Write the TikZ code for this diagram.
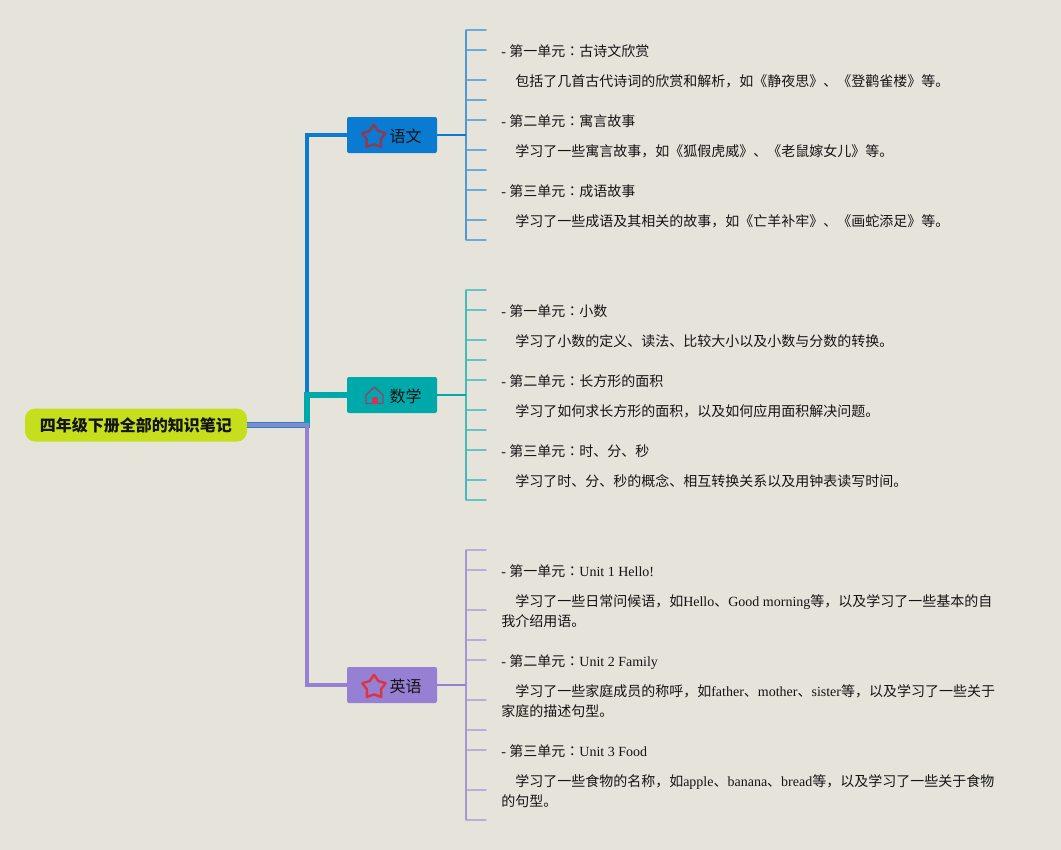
\documentclass[tikz,border=0pt]{standalone}
\usepackage{fontspec}
\setmainfont{Liberation Serif}
\newfontfamily\cjk{Noto Sans CJK SC}
\newfontfamily\cjktc{Noto Sans CJK TC}
\newcommand{\zh}[1]{{\cjk #1}}
\newcommand{\cn}{{\cjktc ：}}
\definecolor{bgc}{HTML}{E6E3DB}
\definecolor{rootc}{HTML}{C6DF1C}
\definecolor{bluec}{HTML}{0A7BD0}
\definecolor{tealc}{HTML}{00A9A9}
\definecolor{purpc}{HTML}{9680D3}
\definecolor{starblue}{HTML}{8E3A55}
\definecolor{starpurp}{HTML}{DC3541}
\definecolor{housec}{HTML}{96406A}
\definecolor{doorc}{HTML}{D8305A}
\definecolor{inkc}{HTML}{141414}
\tikzset{
  x=0.75pt,y=-0.75pt,
  rootbox/.style={fill=rootc,rounded corners=7.5pt,minimum width=222*0.75pt,minimum height=33*0.75pt,inner sep=0pt,text=inkc,font=\fontsize{12pt}{14pt}\selectfont},
  topicbox/.style={rounded corners=1.5pt,minimum width=90*0.75pt,minimum height=36*0.75pt,inner sep=0pt},
  topiclabel/.style={font=\fontsize{12pt}{14pt}\selectfont,inner sep=0pt,anchor=center,text=inkc},
  leaf/.style={anchor=base west,inner sep=0pt,text=inkc,font=\fontsize{10.5pt}{15pt}\selectfont},
  tick/.style={line width=1.1pt,line cap=round},
  starshape/.style={line width=1.8pt,line join=round,fill=none}
}
\newcommand{\ticks}[3]{%
 \foreach \yy [count=\i] in {#3}{
   \coordinate (#1t\i) at (466,\yy);
   \coordinate (#1e\i) at (486,\yy);
   \draw[tick,draw=#2!55!bgc] (#1t\i) -- (#1e\i);
 }
}
\newcommand{\drawstar}[4]{%
 \draw[starshape,draw=#4] (#1+0,#2-#3)
 \foreach \a [evaluate=\a as \r using {mod(\a,72)==0?#3:#3*0.6}] in {36,72,...,324}{ -- (#1+\r*sin \a,#2-\r*cos \a)} -- cycle;
}
\begin{document}
\begin{tikzpicture}
\useasboundingbox (0,0) rectangle (1061,850);
\fill[bgc] (0,0) rectangle (1061,850);

\coordinate (J) at (307,425);
\node[rootbox] (root) at (136,425) {\cjk\bfseries 四年级下册全部的知识笔记};
\node[topicbox,fill=bluec] (yw) at (392,135) {};
\node[topicbox,fill=tealc] (sx) at (392,395) {};
\node[topicbox,fill=purpc] (yy) at (392,685) {};

% main connectors
\draw[line width=2.3pt,draw=bluec] (root.east) -- (J) -- (307,135) -- (yw.west);
\draw[line width=4.5pt,draw=tealc!60!bluec,line cap=butt] (root.east) -- (310,425);
\draw[line width=4.5pt,draw=tealc,line join=miter] (307,428) -- (307,395) -- (sx.west);
\draw[line width=2.4pt,draw=purpc,line join=miter] (root.east) -- (J) -- (307,685) -- (yy.west);

\drawstar{373.8}{137}{12.3}{starblue}
\node[topiclabel] (ywl) at (405.5,136) {\cjk 语文};
\node[topiclabel] (sxl) at (405.5,396) {\cjk 数学};
\node[topiclabel] (yyl) at (405.5,686) {\cjk 英语};
\drawstar{374}{687}{12.3}{starpurp}
\draw[draw=housec,line width=1pt,line join=round] (366,403.5) -- (366,395) -- (374.5,387) -- (383,395) -- (383,403.5) -- cycle;
\fill[doorc] (371.5,403.5) rectangle (377.5,397);

% branch groups
\ticks{a}{bluec}{30,50,80,100,120,150,170,190,220,240}
\ticks{b}{tealc}{290,310,340,360,380,410,430,450,480,500}
\ticks{c}{purpc}{550,570,610,640,660,700,730,750,790,820}
\draw[line width=1.5pt,draw=bluec!70!bgc] (at1) -- (at10);
\draw[line width=1.5pt,draw=tealc!70!bgc] (bt1) -- (bt10);
\draw[line width=1.5pt,draw=purpc!80!bgc] (ct1) -- (ct10);
\draw[line width=1.5pt,draw=bluec] (yw.east) -- (466,135);
\draw[line width=1.5pt,draw=tealc] (sx.east) -- (466,395);
\draw[line width=1.5pt,draw=purpc] (yy.east) -- (466,685);

% leaves
\node[leaf] (a2) at (501,56) {- \zh{第一单元}\cn\zh{古诗文欣赏}};
\node[leaf] (a3) at (515,86) {\zh{包括了几首古代诗词的欣赏和解析，如《静夜思》、《登鹳雀楼》等。}};
\node[leaf] (a5) at (501,126) {- \zh{第二单元}\cn\zh{寓言故事}};
\node[leaf] (a6) at (515,156) {\zh{学习了一些寓言故事，如《狐假虎威》、《老鼠嫁女儿》等。}};
\node[leaf] (a8) at (501,196) {- \zh{第三单元}\cn\zh{成语故事}};
\node[leaf] (a9) at (515,226) {\zh{学习了一些成语及其相关的故事，如《亡羊补牢》、《画蛇添足》等。}};

\node[leaf] (b2) at (501,316) {- \zh{第一单元}\cn\zh{小数}};
\node[leaf] (b3) at (515,346) {\zh{学习了小数的定义、读法、比较大小以及小数与分数的转换。}};
\node[leaf] (b5) at (501,386) {- \zh{第二单元}\cn\zh{长方形的面积}};
\node[leaf] (b6) at (515,416) {\zh{学习了如何求长方形的面积，以及如何应用面积解决问题。}};
\node[leaf] (b8) at (501,456) {- \zh{第三单元}\cn\zh{时、分、秒}};
\node[leaf] (b9) at (515,486) {\zh{学习了时、分、秒的概念、相互转换关系以及用钟表读写时间。}};

\node[leaf] (c2) at (501,576) {- \zh{第一单元}\cn Unit 1 Hello!};
\node[leaf] (c3) at (515,606) {\zh{学习了一些日常问候语，如}Hello\zh{、}Good morning\zh{等，以及学习了一些基本的自}};
\node[leaf] (c3b) at (501,626) {\zh{我介绍用语。}};
\node[leaf] (c5) at (501,666) {- \zh{第二单元}\cn Unit 2 Family};
\node[leaf] (c6) at (515,696) {\zh{学习了一些家庭成员的称呼，如}father\zh{、}mother\zh{、}sister\zh{等，以及学习了一些关于}};
\node[leaf] (c6b) at (501,716) {\zh{家庭的描述句型。}};
\node[leaf] (c8) at (501,756) {- \zh{第三单元}\cn Unit 3 Food};
\node[leaf] (c9) at (515,786) {\zh{学习了一些食物的名称，如}apple\zh{、}banana\zh{、}bread\zh{等，以及学习了一些关于食物}};
\node[leaf] (c9b) at (501,806) {\zh{的句型。}};
\end{tikzpicture}
\end{document}
